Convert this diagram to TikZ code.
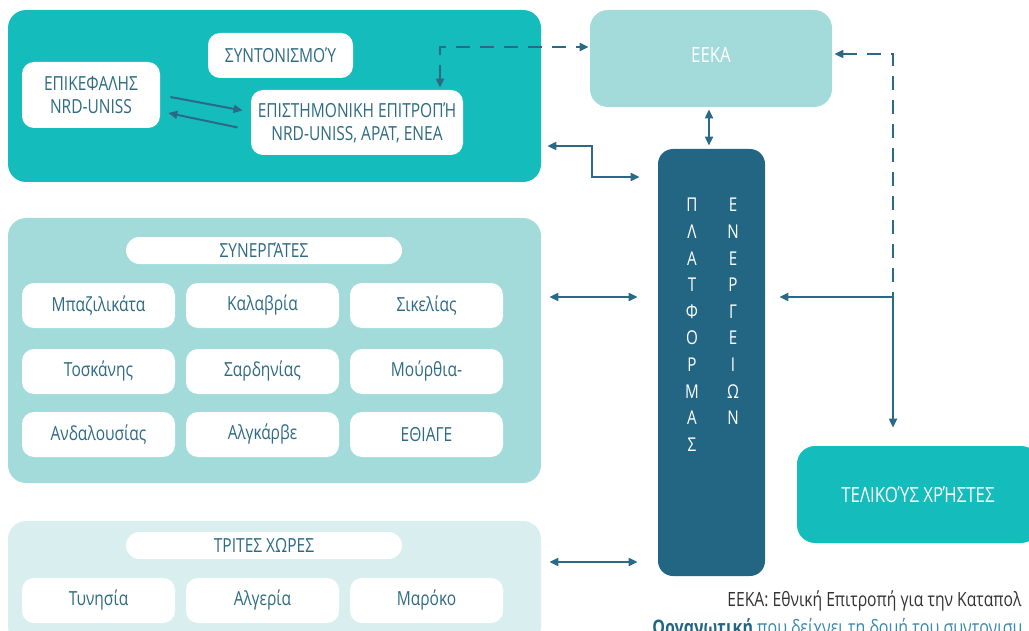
\documentclass[tikz,border=0pt]{standalone}
\usepackage{fontspec}
\setmainfont{Open Sans}[FakeStretch=0.8]
\usepackage{tikz}
\usetikzlibrary{arrows.meta,calc}
\definecolor{tealA}{HTML}{15BCBC}
\definecolor{tealB}{HTML}{A3DBDB}
\definecolor{tealC}{HTML}{D9EFEF}
\definecolor{navy}{HTML}{236683}
\definecolor{ink}{HTML}{2E6B82}
\definecolor{wire}{HTML}{2B6A87}
\definecolor{capt}{HTML}{333333}
\definecolor{captblue}{HTML}{3A89A6}
\tikzset{
  panel/.style={rounded corners=9pt, inner sep=0pt, minimum width=266.5pt},
  whitebox/.style={
    fill=white, rounded corners=6pt, text=ink, align=center, inner sep=0pt,
    font=\fontsize{9.7}{11.5}\selectfont
  },
  cell/.style={whitebox, minimum width=76.5pt, minimum height=22.5pt},
  pill/.style={whitebox, rounded corners=6.75pt, minimum width=138pt, minimum height=13.5pt},
  bigbox/.style={
    rounded corners=9pt, minimum width=121pt, minimum height=48.5pt,
    text=white, font=\fontsize{10.5}{12}\selectfont
  },
  vert/.style={text=white, align=center, inner sep=0pt, font=\fontsize{9.5}{13.3}\selectfont},
  arrow/.style={wire, line width=1pt, -{Triangle[length=4.5pt,width=4pt]}},
  darrow/.style={arrow, {Triangle[length=4.5pt,width=4pt]}-{Triangle[length=4.5pt,width=4pt]}},
  dashline/.style={wire, line width=1pt, dash pattern=on 7pt off 5pt},
}

\begin{document}
\begin{tikzpicture}[x=0.5pt, y=-0.5pt]
    \useasboundingbox (0,0) rectangle (1029,631);
    \clip (0,0) rectangle (1029,631);
    % coordination group
    \node[panel, fill=tealA, minimum height=86pt] (coord) at (274.5,96) {};
    \node[whitebox, minimum width=72.5pt, minimum height=22.5pt] (synt) at (280.5,55.5) {ΣΥΝΤΟΝΙΣΜΟΎ};
    \node[whitebox, minimum width=69pt, minimum height=33pt] (lead) at (91,95) {ΕΠΙΚΕΦΑΛΗΣ\\NRD-UNISS};
    \node[whitebox, minimum width=106pt, minimum height=32.5pt] (sci) at (357,122.5) {ΕΠΙΣΤΗΜΟΝΙΚΗ ΕΠΙΤΡΟΠΉ\\NRD-UNISS, APAT, ENEA};
    % partners
    \node[panel, fill=tealB, minimum height=132.5pt] (partners) at (274.5,350.5) {};
    \node[pill] (parthead) at (264,250.5) {ΣΥΝΕΡΓΆΤΕΣ};
    \node[cell] (bas) at (98.5,305.5) {Μπαζιλικάτα};
    \node[cell] (cal) at (262.5,305.5) {Καλαβρία};
    \node[cell] (sic) at (426.5,305.5) {Σικελίας};
    \node[cell] (tos) at (98.5,371.5) {Τοσκάνης};
    \node[cell] (sar) at (262.5,371.5) {Σαρδηνίας};
    \node[cell] (mur) at (426.5,371.5) {Μούρθια-};
    \node[cell] (and) at (98.5,434.5) {Ανδαλουσίας};
    \node[cell] (alg) at (262.5,434.5) {Αλγκάρβε};
    \node[cell] (eth) at (426.5,434.5) {ΕΘΙΑΓΕ};
    % third countries
    \node[panel, fill=tealC, minimum height=62pt] (third) at (274.5,583) {};
    \node[pill] (thirdhead) at (264,545.5) {ΤΡΙΤΕΣ ΧΩΡΕΣ};
    \node[cell] (tun) at (98.5,600.5) {Τυνησία};
    \node[cell] (alge) at (262.5,600.5) {Αλγερία};
    \node[cell] (mar) at (426.5,600.5) {Μαρόκο};
    % right side
    \node[bigbox, fill=tealB, text depth=4pt] (eeka) at (711,58.5) {ΕΕΚΑ};
    \node[rounded corners=7.5pt, fill=navy, minimum width=53.5pt, minimum height=213.5pt] (plat) at (711.5,362.5) {};
    \node[vert, anchor=north] (platA) at (692,198) {Π\\Λ\\Α\\Τ\\Φ\\Ο\\Ρ\\Μ\\Α\\Σ};
    \node[vert, anchor=north] (platB) at (733,198) {Ε\\Ν\\Ε\\Ρ\\Γ\\Ε\\Ι\\Ω\\Ν};
    \node[bigbox, fill=tealA] (users) at (918,494.5) {ΤΕΛΙΚΟΎΣ ΧΡΉΣΤΕΣ};
    \coordinate (split) at (893,297);
    % notes
    \node[anchor=base west, inner sep=0pt, text=capt, font=\fontsize{9.8}{11}\selectfont] (note) at (727,606) {ΕΕΚΑ: Εθνική Επιτροπή για την Καταπολ};
    \node[anchor=base west, inner sep=0pt, text=captblue, font=\fontsize{10}{12}\selectfont] (caption) at (652,634) {\textcolor{navy}{\textbf{Οργανωτική}} που δείχνει τη δομή του συντονισμ};
    % connectors
    \draw[arrow] ($(lead.east)+(10,2)$) -- ($(sci.west)+(-8,-12)$);
    \draw[arrow] ($(sci.west)+(-13,5)$) -- ($(lead.east)+(8,18)$);
    \draw[dashline, {Triangle[length=4.5pt,width=4pt]}-{Triangle[length=4.5pt,width=4pt]}]
      ($(sci.north)+(83,-2)$) |- ($(eeka.west)+(-1,-11.5)$);
    \draw[darrow] ($(eeka.south)+(-2,2)$) -- ($(plat.north)+(-2.5,-3)$);
    \draw[darrow] ($(coord.east)+(6,50)$) -- (592,146) |- ($(plat.west)+(-18,-185.5)$);
    \draw[darrow] ($(partners.east)+(8,-53.5)$) -- ($(plat.west)+(-20,-65.5)$);
    \draw[darrow] ($(third.east)+(8,-21)$) -- ($(plat.west)+(-20,199.5)$);
    \draw[dashline, {Triangle[length=4.5pt,width=4pt]}-] ($(eeka.east)+(2,-4.5)$) -| (split);
    \draw[arrow] (split) -- ($(plat.east)+(14,-65.5)$);
    \draw[arrow] (split) -- ($(split |- users.north)+(0,-18)$);
\end{tikzpicture}
\end{document}
